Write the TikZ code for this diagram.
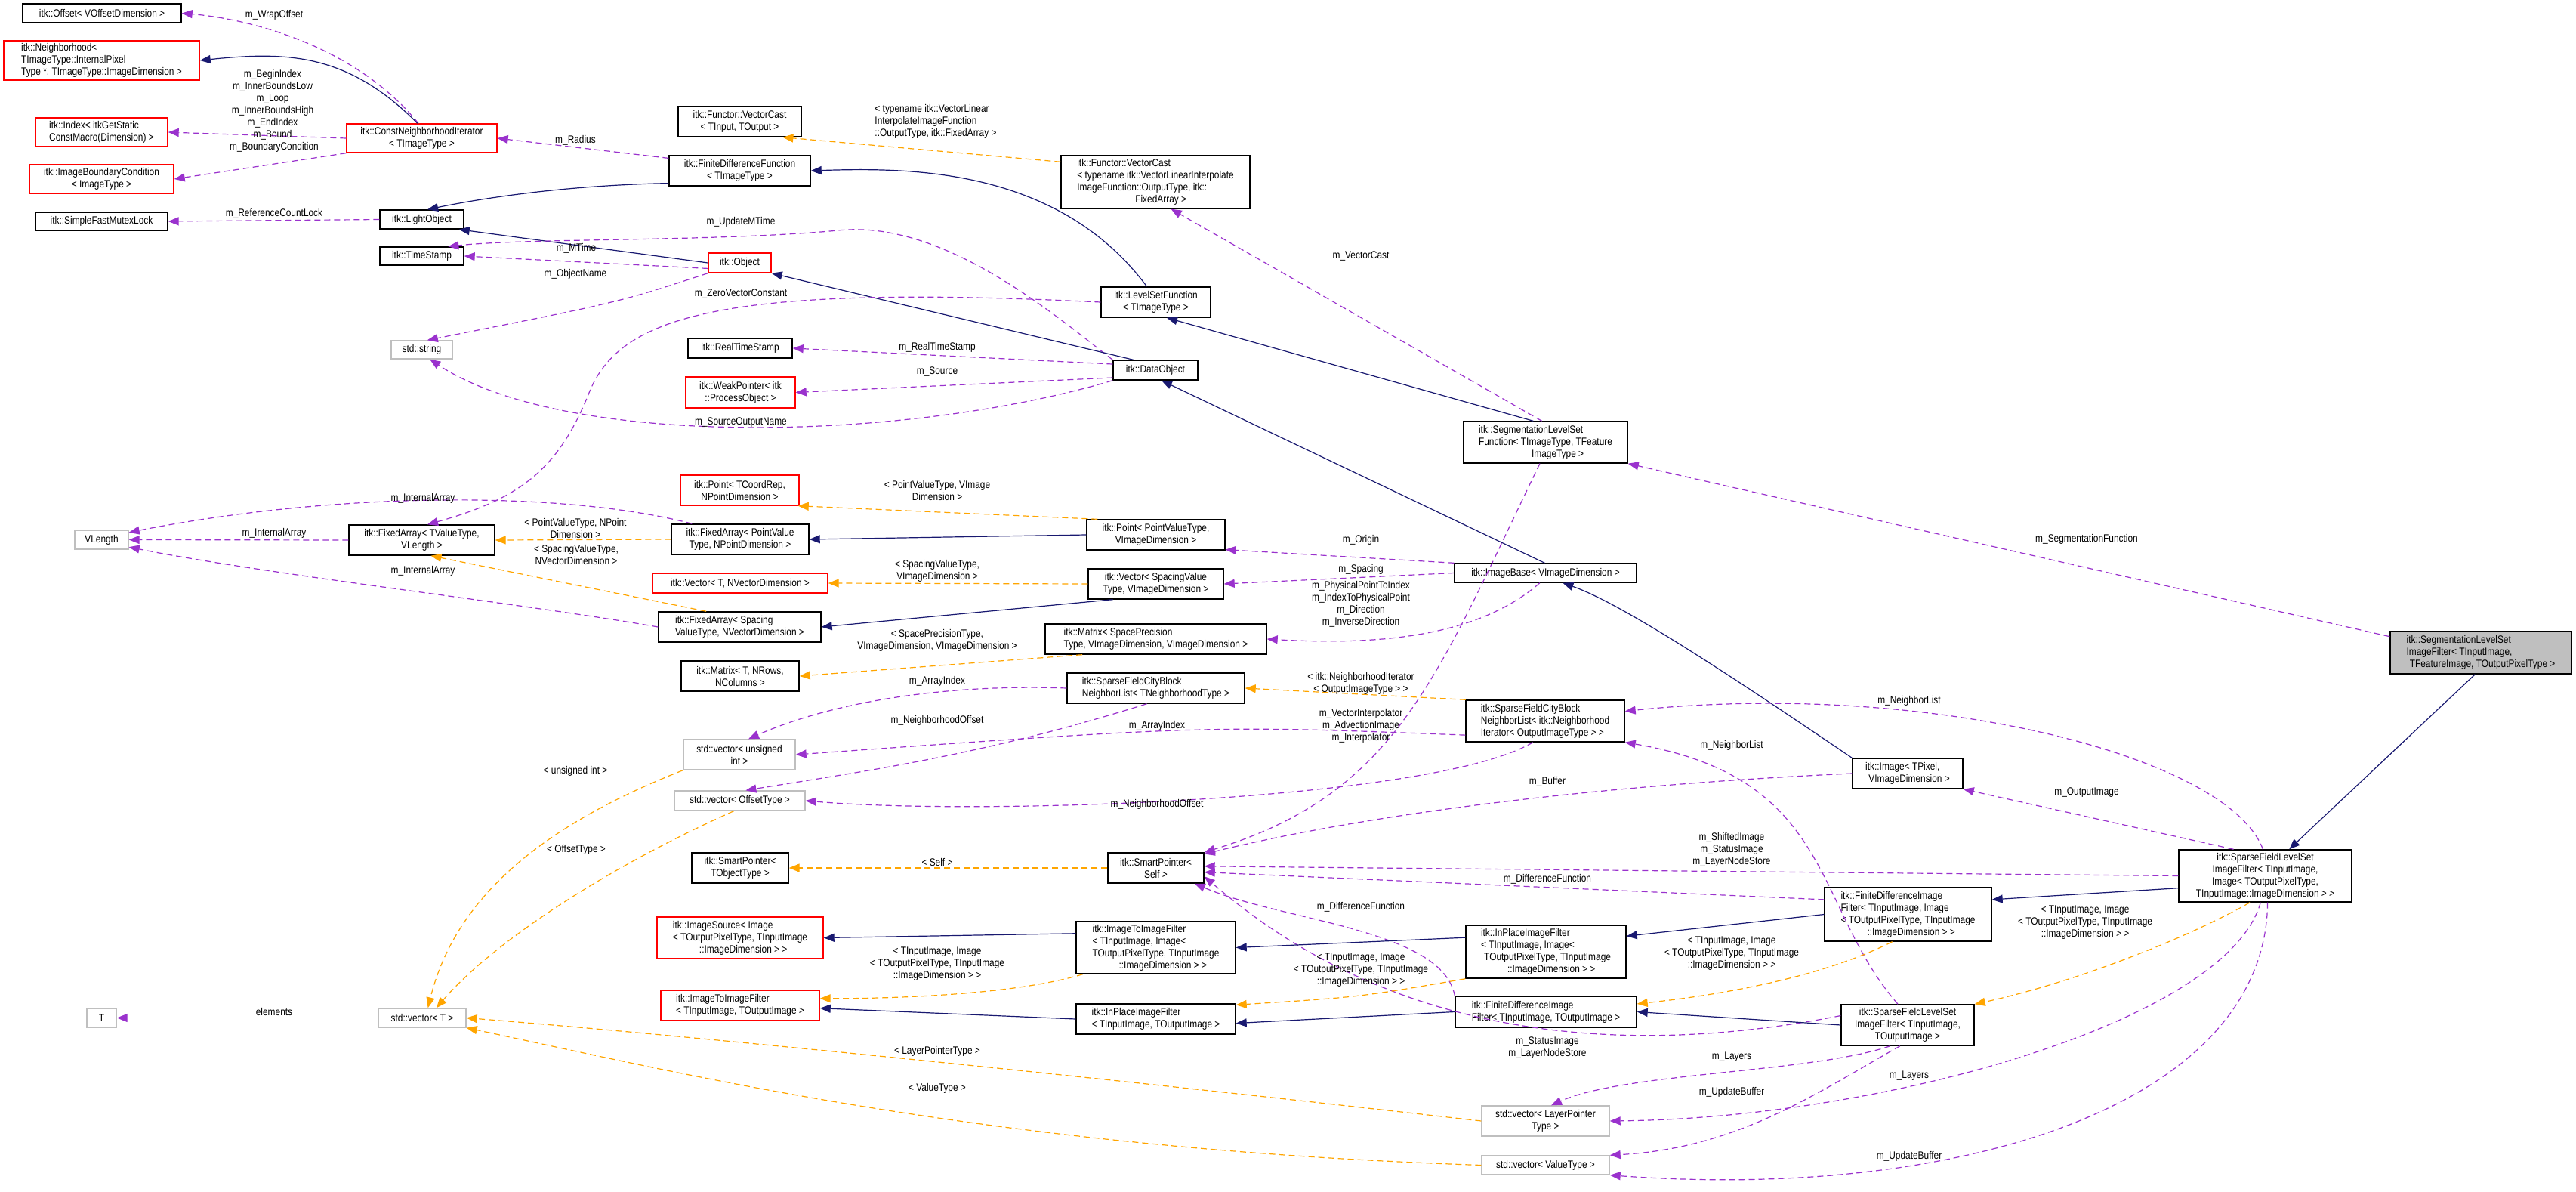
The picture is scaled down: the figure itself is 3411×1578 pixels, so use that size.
\documentclass[tikz,border=0pt]{standalone}
\usepackage{fontspec}
\setmainfont{Liberation Sans}[FakeStretch=0.85]
\usetikzlibrary{arrows.meta}
\definecolor{inhc}{HTML}{191970}
\definecolor{usec}{HTML}{9A32CD}
\definecolor{tplc}{HTML}{FFA500}
\definecolor{redb}{HTML}{FF0000}
\definecolor{grayb}{HTML}{BFBFBF}
\newcommand\bx[7]{\node[box,#6,minimum width={(#4-#2)*0.5pt},minimum height={(#5-#3)*0.5pt}] (#1) at ({(#2+#4)/2},{(#3+#5)/2}) {#7};}
\begin{document}
\begin{tikzpicture}[x=0.5pt,y=-0.5pt,
  every node/.style={font=\fontsize{7}{8}\selectfont},
  box/.style={draw=black,line width=0.7pt,inner sep=0pt,align=center,fill=white},
  rb/.style={draw=redb},
  gb/.style={draw=grayb},
  lf/.style={align=left},
  lbl/.style={inner sep=0pt,align=center},
  inh/.style={draw=inhc,line width=0.6pt,-{Triangle[length=7pt,width=5.5pt]}},
  use/.style={draw=usec,line width=0.6pt,dash pattern=on 4pt off 2.5pt,-{Triangle[length=7pt,width=5.5pt]}},
  tpl/.style={draw=tplc,line width=0.6pt,dash pattern=on 4pt off 2.5pt,-{Triangle[length=7pt,width=5.5pt]}}]
\useasboundingbox (0,0) rectangle (3411,1578);
% nodes
\bx{off}{30}{5}{240}{30}{}{itk::Offset< VOffsetDimension >}
\bx{nbh}{5}{54}{264}{106}{rb,lf}{itk::Neighborhood<\\ TImageType::InternalPixel\\Type *, TImageType::ImageDimension >}
\bx{idx}{47}{156}{222}{194}{rb,lf}{itk::Index< itkGetStatic\\ConstMacro(Dimension) >}
\bx{ibc}{39}{218}{230}{256}{rb}{itk::ImageBoundaryCondition\\< ImageType >}
\bx{sfml}{47}{281}{222}{305}{}{itk::SimpleFastMutexLock}
\bx{cni}{459}{164}{658}{202}{rb}{itk::ConstNeighborhoodIterator\\< TImageType >}
\bx{lo}{503}{278}{614}{303}{}{itk::LightObject}
\bx{ts}{503}{327}{614}{351}{}{itk::TimeStamp}
\bx{str}{518}{451}{599}{475}{gb}{std::string}
\bx{vl}{99}{702}{170}{727}{gb}{VLength}
\bx{fa}{462}{695}{655}{735}{}{itk::FixedArray< TValueType,\\VLength >}
\bx{T}{115}{1335}{154}{1360}{gb}{T}
\bx{vecT}{501}{1335}{617}{1360}{gb}{std::vector< T >}
\bx{vc1}{898}{141}{1061}{181}{}{itk::Functor::VectorCast\\< TInput, TOutput >}
\bx{fdf}{886}{206}{1073}{246}{}{itk::FiniteDifferenceFunction\\< TImageType >}
\bx{vc2}{1405}{206}{1655}{276}{lf}{itk::Functor::VectorCast\\< typename itk::VectorLinearInterpolate\\ImageFunction::OutputType, itk::\\\hspace*{5.5em}FixedArray >}
\bx{obj}{938}{335}{1021}{361}{rb}{itk::Object}
\bx{lsf}{1458}{380}{1603}{420}{}{itk::LevelSetFunction\\< TImageType >}
\bx{rts}{911}{448}{1049}{474}{}{itk::RealTimeStamp}
\bx{dobj}{1474}{477}{1586}{503}{}{itk::DataObject}
\bx{wp}{908}{499}{1053}{540}{rb}{itk::WeakPointer< itk\\::ProcessObject >}
\bx{ptc}{901}{629}{1058}{669}{rb}{itk::Point< TCoordRep,\\NPointDimension >}
\bx{fap}{889}{694}{1071}{734}{}{itk::FixedArray< PointValue\\Type, NPointDimension >}
\bx{pt}{1439}{688}{1622}{728}{}{itk::Point< PointValueType,\\VImageDimension >}
\bx{vecr}{864}{759}{1096}{785}{rb}{itk::Vector< T, NVectorDimension >}
\bx{vs}{1441}{753}{1620}{793}{}{itk::Vector< SpacingValue\\Type, VImageDimension >}
\bx{fas}{872}{810}{1087}{850}{lf}{itk::FixedArray< Spacing\\ValueType, NVectorDimension >}
\bx{msp}{1384}{826}{1677}{866}{lf}{itk::Matrix< SpacePrecision\\Type, VImageDimension, VImageDimension >}
\bx{mt}{902}{875}{1058}{915}{}{itk::Matrix< T, NRows,\\NColumns >}
\bx{sfn}{1413}{891}{1648}{931}{lf}{itk::SparseFieldCityBlock\\NeighborList< TNeighborhoodType >}
\bx{vui}{905}{979}{1053}{1019}{gb}{std::vector< unsigned\\int >}
\bx{voff}{893}{1047}{1066}{1073}{gb}{std::vector< OffsetType >}
\bx{spt}{916}{1129}{1044}{1169}{}{itk::SmartPointer<\\TObjectType >}
\bx{sps}{1467}{1129}{1594}{1169}{}{itk::SmartPointer<\\Self >}
\bx{isrc}{870}{1214}{1090}{1269}{rb,lf}{itk::ImageSource< Image\\< TOutputPixelType, TInputImage\\\hspace*{2.5em}::ImageDimension > >}
\bx{iif}{1425}{1220}{1636}{1289}{lf}{itk::ImageToImageFilter\\< TInputImage, Image<\\TOutputPixelType, TInputImage\\\hspace*{2.5em}::ImageDimension > >}
\bx{iift}{875}{1311}{1085}{1351}{rb,lf}{itk::ImageToImageFilter\\< TInputImage, TOutputImage >}
\bx{ipt}{1425}{1329}{1636}{1369}{lf}{itk::InPlaceImageFilter\\< TInputImage, TOutputImage >}
\bx{ib}{1926}{746}{2167}{771}{}{itk::ImageBase< VImageDimension >}
\bx{slsf}{1938}{558}{2155}{613}{lf}{itk::SegmentationLevelSet\\Function< TImageType, TFeature\\\hspace*{5em}ImageType >}
\bx{sfn2}{1941}{927}{2151}{982}{lf}{itk::SparseFieldCityBlock\\NeighborList< itk::Neighborhood\\Iterator< OutputImageType > >}
\bx{img}{2453}{1004}{2599}{1044}{lf}{itk::Image< TPixel,\\\hspace*{0.3em}VImageDimension >}
\bx{sfl}{2885}{1125}{3114}{1194}{}{itk::SparseFieldLevelSet\\ImageFilter< TInputImage,\\Image< TOutputPixelType,\\TInputImage::ImageDimension > >}
\bx{fdi}{2416}{1175}{2637}{1246}{lf}{itk::FiniteDifferenceImage\\Filter< TInputImage, Image\\< TOutputPixelType, TInputImage\\\hspace*{2.5em}::ImageDimension > >}
\bx{ipi}{1941}{1225}{2153}{1295}{lf}{itk::InPlaceImageFilter\\< TInputImage, Image<\\\hspace*{0.3em}TOutputPixelType, TInputImage\\\hspace*{2.5em}::ImageDimension > >}
\bx{fdt}{1927}{1319}{2167}{1360}{lf}{itk::FiniteDifferenceImage\\Filter< TInputImage, TOutputImage >}
\bx{sflt}{2438}{1330}{2614}{1384}{}{itk::SparseFieldLevelSet\\ImageFilter< TInputImage,\\TOutputImage >}
\bx{vlp}{1962}{1464}{2131}{1504}{gb}{std::vector< LayerPointer\\Type >}
\bx{vvt}{1962}{1530}{2131}{1555}{gb}{std::vector< ValueType >}
\bx{root}{3165}{836}{3405}{892}{lf,fill=grayb}{itk::SegmentationLevelSet\\ImageFilter< TInputImage,\\\hspace*{0.3em}TFeatureImage, TOutputPixelType >}
% edges
\draw[use] (cni.103) .. controls (470,60) and (330,25) .. (off.east);
\draw[inh] (cni.106) .. controls (460,70) and (380,68) .. (nbh.east);
\draw[use] (cni.west) -- (idx.east);
\draw[use] (cni.south west) -- (ibc.east);
\draw[use] (fdf.170) -- (cni.east);
\draw[inh] (fdf.190) .. controls (760,245) and (650,260) .. (lo.60);
\draw[use] (lo.west) -- (sfml.east);
\draw[inh] (obj.west) -- (lo.-15);
\draw[use] (obj.190) -- (ts.east);
\draw[use] (dobj.north west) .. controls (1400,420) and (1250,290) .. (1110,305) .. controls (950,320) and (700,315) .. (ts.20);
\draw[use] (obj.south west) .. controls (820,400) .. (str.60);
\draw[inh] (dobj.155) -- (obj.south east);
\draw[use] (dobj.172) -- (rts.east);
\draw[use] (dobj.190) -- (wp.east);
\draw[use] (dobj.south west) .. controls (1200,585) and (750,595) .. (str.-50);
\draw[inh] (lsf.120) .. controls (1400,220) and (1200,222) .. (fdf.east);
\draw[tpl] (vc2.168) -- (vc1.-20);
\draw[use] (lsf.west) .. controls (950,375) and (820,420) .. (780,520) .. controls (740,620) and (690,660) .. (fa.70);
\draw[inh] (slsf.120) -- (lsf.-55);
\draw[use] (slsf.100) -- (vc2.-60);
\draw[use] (root.170) -- (slsf.south east);
\draw[inh] (root.-105) -- (sfl.48);
\draw[tpl] (pt.165) -- (ptc.-15);
\draw[inh] (pt.west) -- (fap.east);
\draw[tpl] (fap.west) -- (fa.east);
\draw[use] (fap.162) .. controls (750,650) and (450,650) .. (vl.15);
\draw[use] (fa.west) -- (vl.east);
\draw[use] (fas.west) .. controls (700,800) and (350,760) .. (vl.-15);
\draw[tpl] (fas.155) -- (fa.-60);
\draw[tpl] (vs.west) -- (vecr.east);
\draw[inh] (vs.200) -- (fas.east);
\draw[tpl] (msp.192) -- (mt.east);
\draw[use] (ib.north west) -- (pt.-12);
\draw[use] (ib.west) -- (vs.east);
\draw[use] (ib.-120) .. controls (1950,850) and (1800,853) .. (msp.east);
\draw[inh] (ib.95) -- (dobj.-60);
\draw[inh] (img.north west) .. controls (2300,900) and (2150,800) .. (ib.-30);
\draw[use] (sfn.west) .. controls (1250,905) and (1100,930) .. (vui.60);
\draw[use] (sfn.-120) .. controls (1300,1000) and (1150,1020) .. (voff.60);
\draw[tpl] (sfn2.165) -- (sfn.east);
\draw[use] (sfn2.190) .. controls (1600,960) .. (vui.east);
\draw[use] (sfn2.-120) .. controls (1900,1060) and (1300,1080) .. (voff.east);
\draw[use] (slsf.-105) .. controls (1900,900) and (1850,1050) .. (sps.north east);
\draw[use] (img.west) .. controls (2100,1040) and (1800,1080) .. (sps.16);
\draw[use] (sfl.west) -- (sps.2);
\draw[use] (fdi.170) -- (sps.-5);
\draw[use] (sflt.172) .. controls (1950,1440) and (1700,1250) .. (sps.-10);
\draw[use] (fdt.north west) .. controls (1910,1230) and (1700,1220) .. (sps.-22);
\draw[use] (sflt.115) .. controls (2400,1200) and (2430,1030) .. (sfn2.south east);
\draw[use] (sflt.-130) .. controls (2400,1420) and (2150,1420) .. (vlp.70);
\draw[use] (sflt.-110) .. controls (2400,1450) and (2300,1520) .. (vvt.north east);
\draw[use] (sfl.95) .. controls (2950,1000) and (2550,900) .. (sfn2.7);
\draw[use] (sfl.140) -- (img.south east);
\draw[inh] (sfl.188) -- (fdi.10);
\draw[tpl] (sfl.-120) .. controls (2900,1240) and (2750,1300) .. (sflt.north east);
\draw[use] (sfl.-100) .. controls (2950,1350) and (2500,1480) .. (vlp.east);
\draw[use] (sfl.-85) .. controls (3000,1460) and (2600,1590) .. (vvt.south east);
\draw[inh] (fdi.west) -- (ipi.11);
\draw[tpl] (fdi.-120) .. controls (2400,1300) and (2250,1320) .. (fdt.5);
\draw[inh] (sflt.west) -- (fdt.east);
\draw[inh] (ipi.170) -- (iif.east);
\draw[tpl] (ipi.south west) .. controls (1800,1320) .. (ipt.10);
\draw[inh] (fdt.west) -- (ipt.-3);
\draw[inh] (iif.170) -- (isrc.east);
\draw[tpl] (iif.-160) .. controls (1350,1315) and (1200,1322) .. (iift.5);
\draw[inh] (ipt.west) -- (iift.-2);
\draw[tpl] (sps.west) -- (spt.east);
\draw[use] (vecT.west) -- (T.east);
\draw[tpl] (vui.south west) .. controls (700,1100) and (600,1200) .. (vecT.60);
\draw[tpl] (voff.-120) .. controls (800,1150) and (650,1250) .. (vecT.35);
\draw[tpl] (vlp.west) .. controls (1400,1420) and (900,1370) .. (vecT.east);
\draw[tpl] (vvt.west) .. controls (1300,1520) and (900,1420) .. (vecT.south east);
% labels
\node[lbl] (l1) at (363,20) {m\_WrapOffset};
\node[lbl] (l2) at (361,139) {m\_BeginIndex\\m\_InnerBoundsLow\\m\_Loop\\m\_InnerBoundsHigh\\m\_EndIndex\\m\_Bound};
\node[lbl] (l3) at (363,195) {m\_BoundaryCondition};
\node[lbl] (l4) at (762,186) {m\_Radius};
\node[lbl] (l5) at (363,283) {m\_ReferenceCountLock};
\node[lbl] (l6) at (763,329) {m\_MTime};
\node[lbl] (l7) at (762,363) {m\_ObjectName};
\node[lbl] (l8) at (560,660) {m\_InternalArray};
\node[lbl] (l9) at (363,706) {m\_InternalArray};
\node[lbl] (l10) at (560,756) {m\_InternalArray};
\node[lbl] (l11) at (762,699) {< PointValueType, NPoint\\Dimension >};
\node[lbl] (l12) at (763,734) {< SpacingValueType,\\NVectorDimension >};
\node[lbl] (l13) at (762,1021) {< unsigned int >};
\node[lbl] (l14) at (363,1339) {elements};
\node[lbl] (l15) at (763,1125) {< OffsetType >};
\node[lbl,align=left] (l16) at (1239,161) {< typename itk::VectorLinear\\InterpolateImageFunction\\::OutputType, itk::FixedArray >};
\node[lbl] (l17) at (981,294) {m\_UpdateMTime};
\node[lbl] (l18) at (981,389) {m\_ZeroVectorConstant};
\node[lbl] (l19) at (1241,460) {m\_RealTimeStamp};
\node[lbl] (l20) at (1241,492) {m\_Source};
\node[lbl] (l21) at (1802,339) {m\_VectorCast};
\node[lbl] (l22) at (981,559) {m\_SourceOutputName};
\node[lbl] (l23) at (1241,649) {< PointValueType, VImage\\Dimension >};
\node[lbl] (l24) at (1802,715) {m\_Origin};
\node[lbl] (l25) at (1802,754) {m\_Spacing};
\node[lbl] (l26) at (1241,756) {< SpacingValueType,\\VImageDimension >};
\node[lbl] (l27) at (1802,800) {m\_PhysicalPointToIndex\\m\_IndexToPhysicalPoint\\m\_Direction\\m\_InverseDirection};
\node[lbl] (l28) at (1241,848) {< SpacePrecisionType,\\VImageDimension, VImageDimension >};
\node[lbl] (l29) at (1241,902) {m\_ArrayIndex};
\node[lbl] (l30) at (1802,905) {< itk::NeighborhoodIterator\\< OutputImageType > >};
\node[lbl] (l31) at (1241,954) {m\_NeighborhoodOffset};
\node[lbl] (l32) at (1532,961) {m\_ArrayIndex};
\node[lbl] (l33) at (1802,961) {m\_VectorInterpolator\\m\_AdvectionImage\\m\_Interpolator};
\node[lbl] (l34) at (1532,1065) {m\_NeighborhoodOffset};
\node[lbl] (l35) at (1241,1141) {< Self >};
\node[lbl] (l36) at (1802,1201) {m\_DifferenceFunction};
\node[lbl] (l37) at (1241,1276) {< TInputImage, Image\\< TOutputPixelType, TInputImage\\::ImageDimension > >};
\node[lbl] (l38) at (1802,1284) {< TInputImage, Image\\< TOutputPixelType, TInputImage\\::ImageDimension > >};
\node[lbl] (l39) at (1241,1392) {< LayerPointerType >};
\node[lbl] (l40) at (1241,1441) {< ValueType >};
\node[lbl] (l41) at (2763,714) {m\_SegmentationFunction};
\node[lbl] (l42) at (2528,928) {m\_NeighborList};
\node[lbl] (l43) at (2293,987) {m\_NeighborList};
\node[lbl] (l44) at (2049,1035) {m\_Buffer};
\node[lbl] (l45) at (2763,1049) {m\_OutputImage};
\node[lbl] (l46) at (2293,1125) {m\_ShiftedImage\\m\_StatusImage\\m\_LayerNodeStore};
\node[lbl] (l47) at (2049,1164) {m\_DifferenceFunction};
\node[lbl] (l48) at (2761,1221) {< TInputImage, Image\\< TOutputPixelType, TInputImage\\::ImageDimension > >};
\node[lbl] (l49) at (2293,1262) {< TInputImage, Image\\< TOutputPixelType, TInputImage\\::ImageDimension > >};
\node[lbl] (l50) at (2049,1387) {m\_StatusImage\\m\_LayerNodeStore};
\node[lbl] (l51) at (2293,1399) {m\_Layers};
\node[lbl] (l52) at (2528,1424) {m\_Layers};
\node[lbl] (l53) at (2293,1446) {m\_UpdateBuffer};
\node[lbl] (l54) at (2528,1531) {m\_UpdateBuffer};
\end{tikzpicture}
\end{document}
